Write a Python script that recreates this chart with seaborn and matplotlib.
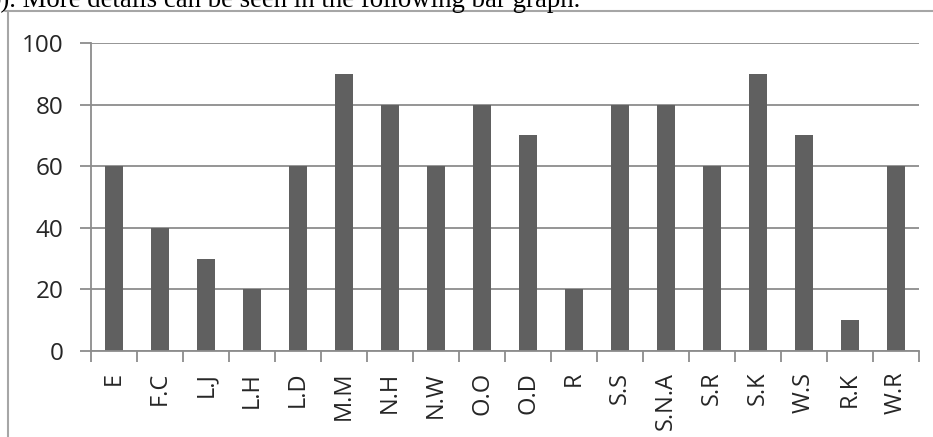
import matplotlib
matplotlib.use("Agg")
import matplotlib.pyplot as plt
from matplotlib.lines import Line2D
import seaborn as sns
import pandas as pd
import numpy as np

categories = ["E", "F.C", "L.J", "L.H", "L.D", "M.M", "N.H", "N.W", "O.O",
              "O.D", "R", "S.S", "S.N.A", "S.R", "S.K", "W.S", "R.K", "W.R"]
values = [60, 40, 30, 20, 60, 90, 80, 60, 80, 70, 20, 80, 80, 60, 90, 70, 10, 60]
y_ticks = [0, 20, 40, 60, 80, 100]
caption = "b). More details can be seen in the following bar graph."

sns.set_theme(style="white")
plt.rcParams["font.family"] = ["Open Sans", "DejaVu Sans"]

W, H = 933, 437
fig = plt.figure(figsize=(W / 100, H / 100), dpi=100)
ax = fig.add_axes([91 / W, 1 - 351 / H, (919 - 91) / W, (351 - 43) / H])

df = pd.DataFrame({"cat": categories, "val": values})
sns.barplot(data=df, x="cat", y="val", color="#606060", saturation=1,
            width=0.4, ax=ax, edgecolor="none")

grid_c = "#8c8c8c"
ax.set_ylim(0, 100)
ax.set_xlim(-0.5, len(categories) - 0.5)
ax.set_yticks(y_ticks)
ax.set_yticklabels([str(t) for t in y_ticks], fontsize=17.5)
ax.yaxis.grid(True, color=grid_c, linewidth=1.3)
ax.set_axisbelow(True)
ax.set_xlabel("")
ax.set_ylabel("")

# category labels centred under bars, tick marks on the boundaries
ax.set_xticks(range(len(categories)))
ax.set_xticklabels(categories, rotation=90, fontsize=17)
ax.set_xticks(np.arange(-0.5, len(categories)), minor=True)
ax.tick_params(axis="x", which="major", length=0, pad=15)
ax.tick_params(axis="x", which="minor", length=8, width=1.3, color=grid_c,
               bottom=True)
ax.tick_params(axis="y", length=8, width=1.3, color=grid_c, left=True, pad=12)

for side in ["top", "right"]:
    ax.spines[side].set_visible(False)
for side in ["left", "bottom"]:
    ax.spines[side].set_color(grid_c)
    ax.spines[side].set_linewidth(1.3)

# surrounding frame of the chart area
frame_c = "#a6a6a6"
fig.add_artist(Line2D([5 / W, 1.0], [1 - 11 / H, 1 - 11 / H],
                      transform=fig.transFigure, color=frame_c, linewidth=1.5))
fig.add_artist(Line2D([8 / W, 8 / W], [1 - 11 / H, 0.0],
                      transform=fig.transFigure, color=frame_c, linewidth=1.5))

fig.text(-13 / W, 1 - 7 / H, caption, fontsize=19.3, ha="left", va="baseline",
         family="Liberation Serif", color="black")

fig.savefig("out.png", dpi=100)
